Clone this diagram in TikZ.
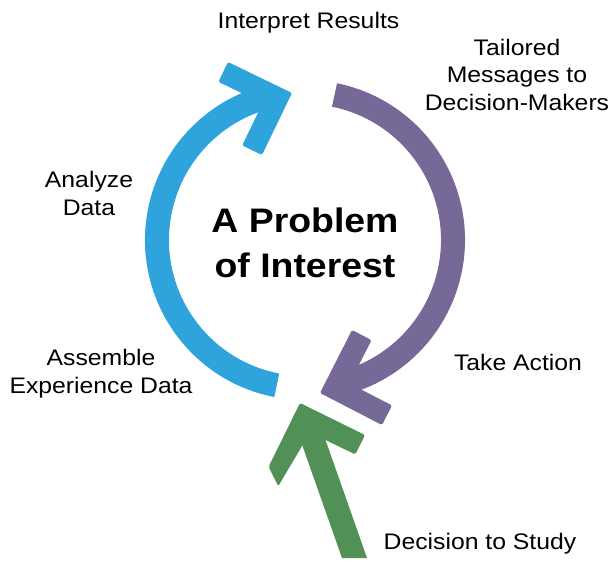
\documentclass[tikz,border=0pt]{standalone}
\usepackage{fontspec}
\setmainfont[FakeStretch=1.1]{Liberation Sans}
\definecolor{cblue}{RGB}{46,163,220}
\definecolor{cpurple}{RGB}{118,105,152}
\definecolor{cgreen}{RGB}{81,145,88}
\begin{document}
\begin{tikzpicture}[x=1pt,y=1pt,
  band/.style={line width=24pt},
  head/.style={rounded corners=1.5pt},
  lbl/.style={inner sep=0pt,font=\fontsize{22.5}{27.5}\selectfont},
  title/.style={inner sep=0pt,font=\fontsize{34}{45}\selectfont\bfseries,align=center}]
\useasboundingbox (0,0) rectangle (610,-563);
\coordinate (C) at (305,-240);
% blue arc
\draw[band,cblue] (C) ++(259:148) arc[start angle=259,end angle=102,radius=148];
\fill[head,cblue] (292,-93) -- (228,-62) -- (218.4,-81.8) -- (262.6,-103.2) -- (242.2,-145.4) -- (262,-155) -- cycle;
% purple arc
\draw[band,cpurple] (C) ++(78.5:148) arc[start angle=78.5,end angle=-74,radius=148];
\fill[head,cpurple] (320,-393) -- (352,-330) -- (371.5,-340.1) -- (349.5,-383.5) -- (392,-405.4) -- (382,-425) -- cycle;
% green arrow
\fill[cgreen] (342,-558) -- (367,-558) -- (322,-430) -- (299,-436) -- cycle;
\fill[head,cgreen] (300,-403) -- (365,-435) -- (355.3,-454.4) -- (310,-432.5) -- (278.3,-486.1) -- (268.6,-466.7) -- cycle;
% labels
\node[lbl,anchor=base] (interp) at (308.5,-28) {Interpret Results};
\node[lbl,anchor=base,align=center] (tailor) at (517,-110) {Tailored\\Messages to\\Decision-Makers};
\node[lbl,anchor=base,align=center] (analyze) at (89,-215) {Analyze\\Data};
\node[lbl,anchor=base,align=center] (assemble) at (101,-393) {Assemble\\Experience Data};
\node[lbl,anchor=base] (action) at (518,-370) {Take Action};
\node[lbl,anchor=base] (decide) at (480,-549) {Decision to Study};
\node[title,anchor=base] (problem) at (305,-277) {A Problem\\of Interest};
\end{tikzpicture}
\end{document}
